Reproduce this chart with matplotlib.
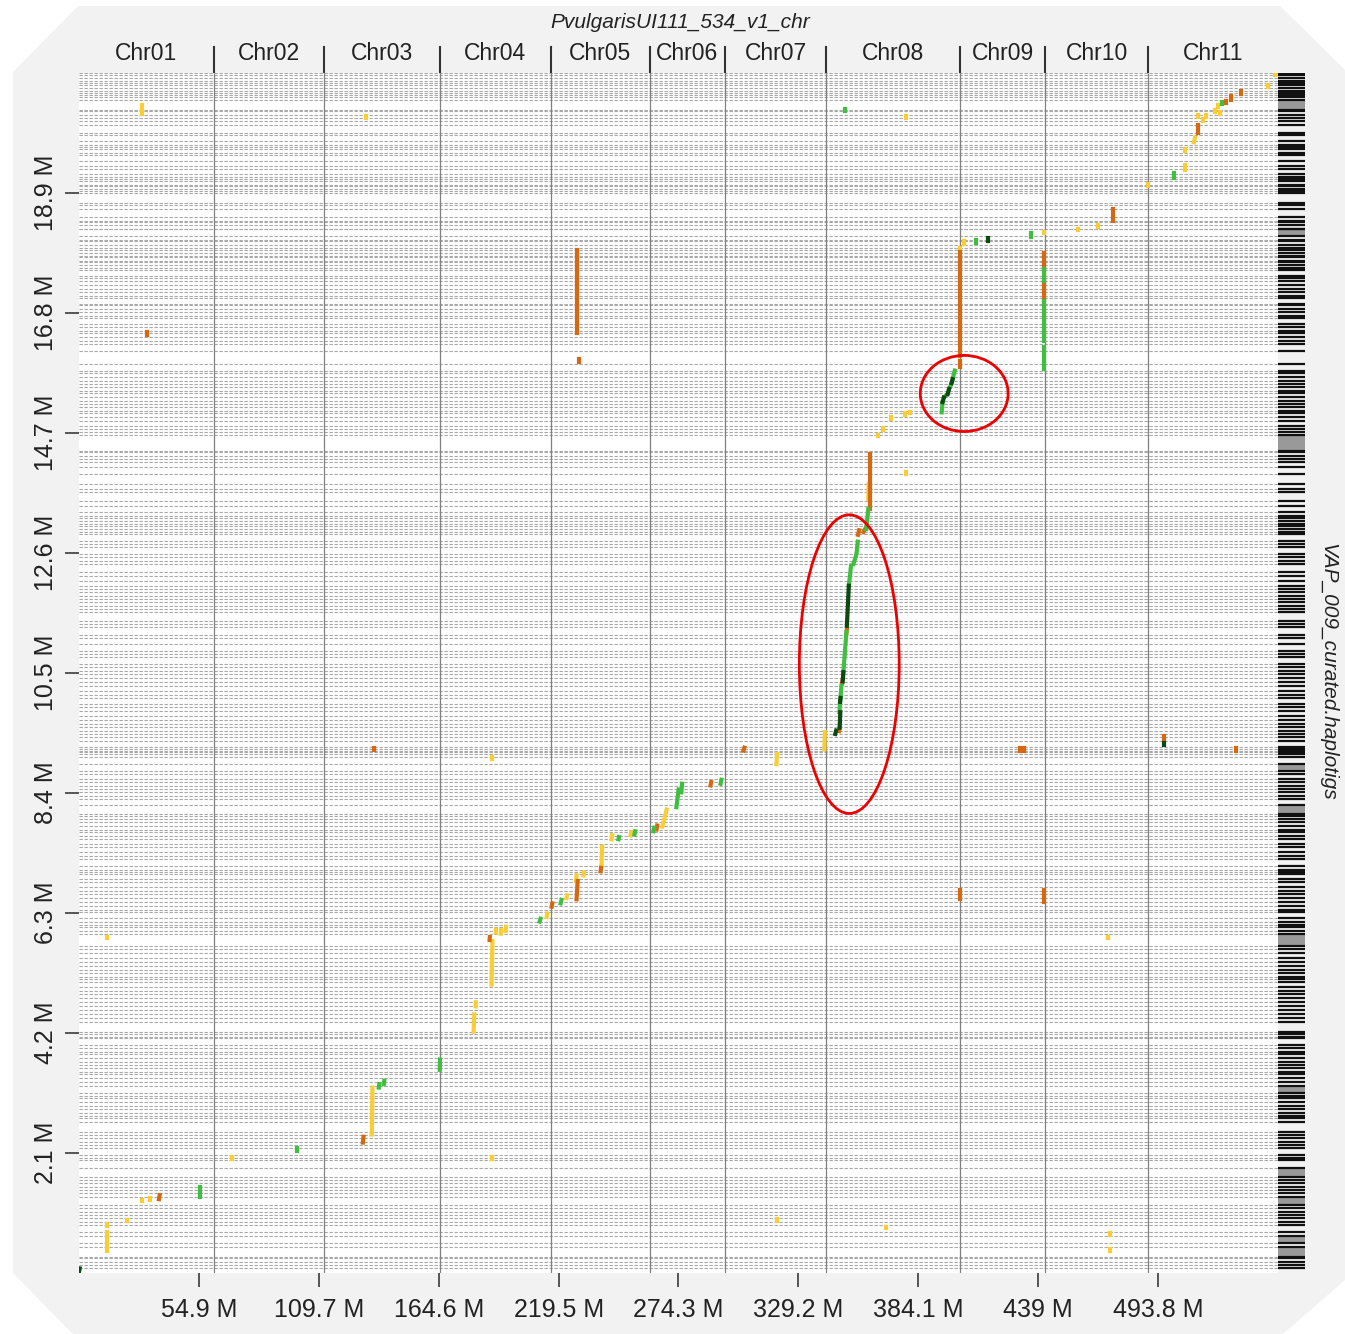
import matplotlib
matplotlib.use("Agg")
import matplotlib.pyplot as plt
from matplotlib.patches import Polygon, Ellipse
from matplotlib import transforms

plt.rcParams['font.family'] = ['Liberation Sans', 'DejaVu Sans']

# ---------------- data ----------------
x_total = 548.7   # Mb, reference (PvulgarisUI111_534_v1_chr)
y_total = 20.97   # Mb, query (VAP_009_curated.haplotigs)

chr_names = ["Chr01", "Chr02", "Chr03", "Chr04", "Chr05", "Chr06",
             "Chr07", "Chr08", "Chr09", "Chr10", "Chr11"]
chr_ends = [61.7, 112.0, 165.1, 215.8, 261.1, 295.8, 342.0, 403.3,
            442.2, 489.3, 548.7]

x_tick_labels = ["54.9 M", "109.7 M", "164.6 M", "219.5 M", "274.3 M",
                 "329.2 M", "384.1 M", "439 M", "493.8 M"]
y_tick_labels = ["2.1 M", "4.2 M", "6.3 M", "8.4 M", "10.5 M",
                 "12.6 M", "14.7 M", "16.8 M", "18.9 M"]

# query contig boundaries (Mb)
contig_bounds = [
    20.97, 20.93, 20.88, 20.83, 20.79, 20.76, 20.70, 20.65, 20.62, 20.58, 20.55,
    20.49, 20.32, 20.30, 20.23, 20.18, 20.13, 20.06, 19.92, 19.88,
    19.78, 19.72, 19.67, 19.64, 19.58, 19.53, 19.43, 19.34, 19.30,
    19.20, 19.16, 19.11, 19.08, 19.02, 18.99, 18.94, 18.90, 18.87,
    18.69, 18.66, 18.60, 18.45, 18.39, 18.36, 18.32, 18.25, 18.24, 18.13,
    18.06, 18.03, 17.97, 17.92, 17.87, 17.83, 17.78, 17.75, 17.69, 17.66,
    17.61, 17.57, 17.52, 17.43, 17.38, 17.33, 17.27, 17.20, 17.15, 17.08,
    17.03, 16.94, 16.91, 16.85, 16.80, 16.73, 16.68, 16.59, 16.54, 16.47,
    16.42, 16.36, 16.29, 16.24, 16.12, 15.89,
    15.77, 15.72, 15.66, 15.59, 15.54, 15.49, 15.42, 15.37, 15.31, 15.24,
    15.19, 15.14, 15.07, 15.02, 14.96, 14.88, 14.81, 14.75, 14.70,
    14.65, 14.37, 14.35, 14.28, 14.23, 14.18, 14.09, 13.97,
    13.79, 13.70, 13.65, 13.49, 13.41, 13.30, 13.23, 13.20, 13.14, 13.09,
    13.06, 13.00, 12.95, 12.92, 12.79, 12.74, 12.69, 12.57, 12.51, 12.44,
    12.39, 12.25, 12.18, 12.09, 12.01, 11.95, 11.90, 11.83, 11.78,
    11.73, 11.66, 11.60, 11.55, 11.39, 11.34, 11.29, 11.15, 11.10, 10.99,
    10.87, 10.82, 10.76, 10.64, 10.59, 10.52, 10.47, 10.40, 10.33, 10.26,
    10.17, 10.10, 10.05, 9.94, 9.89, 9.82, 9.73, 9.66, 9.59, 9.54, 9.47,
    9.42, 9.36, 9.29, 9.19, 9.15, 9.12, 9.10, 9.07, 9.01, 8.89, 8.77,
    8.72, 8.63, 8.58, 8.51, 8.45, 8.40, 8.33, 8.28, 8.17, 8.02,
    7.98, 7.93, 7.88, 7.81, 7.75, 7.70, 7.63, 7.58, 7.49, 7.44, 7.35,
    7.28, 7.23, 7.11, 7.05, 7.00, 6.97, 6.88, 6.83, 6.74, 6.67, 6.62,
    6.56, 6.49, 6.41, 6.35, 6.30, 6.20, 6.14, 6.09, 6.04, 5.97, 5.92, 5.72,
    5.67, 5.60, 5.51, 5.44, 5.36, 5.30, 5.25, 5.18, 5.13, 5.08, 4.99,
    4.92, 4.87, 4.81, 4.73, 4.66, 4.60, 4.52, 4.46, 4.39, 4.22, 4.18,
    4.13, 4.10, 3.99, 3.94, 3.87, 3.82, 3.76, 3.69, 3.64, 3.59, 3.52,
    3.47, 3.41, 3.34, 3.26, 3.15, 3.10, 3.05, 2.98, 2.92, 2.87, 2.80,
    2.75, 2.70, 2.63, 2.47, 2.42, 2.36, 2.29, 2.24, 2.19, 2.07, 2.01,
    1.98, 1.84, 1.68, 1.63, 1.58, 1.51, 1.45, 1.40, 1.33, 1.19, 1.14,
    1.07, 1.02, 0.96, 0.89, 0.84, 0.72, 0.65, 0.53, 0.46, 0.28, 0.26,
    0.19, 0.14, 0.09,
]
# long contigs shown as grey blocks in the side strip (Mb)
grey_contigs = [(20.32, 20.49), (18.13, 18.24), (14.37, 14.65), (8.77, 8.89),
                (8.02, 8.17), (5.72, 5.92), (3.15, 3.26), (1.68, 1.84),
                (1.19, 1.33), (0.53, 0.65), (0.28, 0.46)]

# alignments (x0, x1, y0, y1) in Mb, per identity class
aln_lt25 = [
    (12.8, 12.8, 0.82, 0.86), (12.8, 12.8, 0.68, 0.72), (12.8, 12.8, 0.48, 0.62),
    (12.8, 12.8, 0.38, 0.44), (21.9, 21.9, 0.90, 0.93), (28.8, 28.8, 1.25, 1.28),
    (32.5, 32.5, 1.28, 1.31), (70.0, 70.0, 2.00, 2.03), (28.8, 28.8, 20.37, 20.41),
    (28.8, 28.8, 20.26, 20.30), (131.2, 131.2, 20.19, 20.22), (12.8, 12.8, 5.85, 5.88),
    (134.0, 134.3, 2.42, 3.24), (180.6, 180.9, 4.22, 4.52), (181.5, 181.6, 4.66, 4.73),
    (188.8, 189.2, 5.04, 5.80), (190.7, 190.8, 5.95, 6.00), (193.0, 193.1, 5.93, 5.99),
    (195.2, 195.4, 5.98, 6.05), (188.8, 188.8, 8.98, 9.01), (188.8, 188.8, 2.00, 2.03),
    (214.0, 214.3, 6.22, 6.28), (223.1, 223.3, 6.55, 6.60), (227.5, 227.7, 6.85, 6.95),
    (230.9, 231.1, 6.95, 7.00), (239.1, 239.4, 7.10, 7.45), (243.7, 244.0, 7.58, 7.65),
    (252.4, 252.7, 7.65, 7.70), (267.0, 268.9, 7.80, 8.10), (319.2, 319.4, 8.89, 9.07),
    (341.1, 341.3, 9.15, 9.45), (319.2, 319.2, 0.91, 0.95), (361.2, 361.4, 13.53, 13.79),
    (365.8, 365.8, 14.62, 14.65), (368.1, 368.1, 14.74, 14.77), (371.7, 371.7, 14.92, 14.95),
    (378.0, 378.0, 14.99, 15.02), (380.3, 380.3, 15.02, 15.05), (378.6, 378.6, 13.96, 13.99),
    (369.5, 369.5, 0.78, 0.81), (378.6, 378.6, 20.19, 20.22), (403.3, 403.3, 17.87, 17.92),
    (405.1, 405.1, 17.99, 18.03), (441.7, 441.7, 18.17, 18.20), (457.3, 457.3, 18.22, 18.25),
    (466.4, 466.4, 18.28, 18.31), (471.0, 471.0, 5.85, 5.88), (471.9, 471.9, 0.67, 0.70),
    (471.9, 471.9, 0.39, 0.42), (489.3, 489.3, 19.00, 19.03), (506.2, 506.2, 19.27, 19.36),
    (506.2, 506.2, 19.61, 19.64), (510.2, 510.7, 19.76, 19.84), (512.1, 512.1, 20.20, 20.23),
    (514.4, 514.4, 20.13, 20.16), (515.8, 515.8, 20.20, 20.23), (519.9, 519.9, 20.29, 20.32),
    (521.3, 521.3, 20.38, 20.41), (522.2, 522.2, 20.26, 20.29), (544.1, 544.1, 20.73, 20.76),
    (547.3, 547.3, 20.93, 20.96),
]
aln_25_50 = [
    (36.6, 36.9, 1.29, 1.36), (31.1, 31.1, 16.40, 16.44), (129.9, 130.2, 2.28, 2.38),
    (134.9, 134.9, 9.14, 9.18), (187.9, 188.0, 5.82, 5.87), (216.3, 216.6, 6.40, 6.46),
    (227.7, 228.2, 6.53, 6.85), (238.7, 238.9, 7.02, 7.08), (264.3, 264.6, 7.75, 7.82),
    (289.0, 289.3, 8.52, 8.58), (304.1, 304.5, 9.13, 9.18), (227.7, 227.7, 17.30, 17.87),
    (227.7, 227.7, 16.90, 17.28), (227.7, 227.7, 16.42, 16.88), (228.6, 228.6, 15.92, 15.97),
    (347.8, 348.1, 9.47, 9.53), (349.2, 349.4, 10.30, 10.36), (351.2, 351.4, 11.18, 11.25),
    (356.5, 357.0, 12.90, 12.98), (359.0, 360.0, 12.95, 13.02), (362.1, 362.1, 13.35, 14.32),
    (403.3, 403.3, 15.84, 15.93), (403.3, 403.3, 16.03, 17.85), (441.7, 441.7, 17.55, 17.82),
    (441.7, 441.7, 16.99, 17.34), (403.3, 403.3, 6.53, 6.70), (441.7, 441.7, 6.49, 6.70),
    (430.7, 430.7, 9.13, 9.18), (432.5, 432.5, 9.13, 9.18), (473.3, 473.3, 18.39, 18.60),
    (496.6, 496.6, 9.34, 9.38), (529.5, 529.5, 9.13, 9.17), (512.1, 512.1, 19.92, 20.06),
    (524.9, 524.9, 20.44, 20.48), (527.2, 527.2, 20.50, 20.56), (531.8, 531.8, 20.60, 20.65),
]
aln_50_75 = [
    (55.3, 55.3, 1.33, 1.50), (99.7, 99.7, 2.13, 2.18), (137.2, 137.4, 3.24, 3.30),
    (139.5, 139.7, 3.30, 3.36), (165.1, 165.2, 3.55, 3.73), (210.8, 211.2, 6.14, 6.19),
    (220.4, 220.8, 6.46, 6.52), (246.9, 247.1, 7.58, 7.62), (254.2, 254.5, 7.66, 7.72),
    (262.9, 263.2, 7.72, 7.78), (273.4, 274.4, 8.14, 8.45), (275.7, 276.0, 8.40, 8.55),
    (293.6, 294.0, 8.55, 8.62), (348.0, 348.9, 9.80, 10.26), (349.8, 351.2, 10.50, 11.20),
    (352.3, 353.3, 12.01, 12.36), (354.4, 355.7, 12.39, 12.55), (355.9, 356.4, 12.60, 12.78),
    (360.3, 361.2, 13.00, 13.35), (350.7, 350.7, 20.31, 20.34), (394.8, 395.2, 15.04, 15.22),
    (395.8, 397.5, 15.30, 15.36), (398.2, 399.3, 15.45, 15.55), (399.8, 400.8, 15.62, 15.77),
    (410.6, 410.6, 18.00, 18.06), (435.8, 435.8, 18.10, 18.17), (441.7, 441.7, 17.34, 17.55),
    (441.7, 441.7, 16.45, 16.99), (441.7, 441.7, 16.28, 16.42), (441.7, 441.7, 16.01, 16.19),
    (441.7, 441.7, 15.80, 15.93), (501.1, 501.1, 19.13, 19.22), (523.1, 523.1, 20.42, 20.46),
]
aln_gt75 = [
    (0.0, 0.3, 0.02, 0.08), (346.1, 346.5, 9.42, 9.48), (348.1, 348.4, 9.53, 9.80),
    (348.3, 348.5, 9.98, 10.05), (349.5, 349.8, 10.34, 10.50), (351.4, 352.3, 11.31, 12.01),
    (395.2, 395.8, 15.22, 15.30), (397.5, 398.2, 15.36, 15.45), (399.3, 399.8, 15.55, 15.62),
    (416.1, 416.1, 18.04, 18.08), (496.6, 496.6, 9.22, 9.26),
]
class_colors = ["#f9cd33", "#d8680f", "#3fbf3f", "#0b4a12"]

# highlighted regions (centre x, centre y, width, height) in Mb
highlights = [(352.5, 10.64, 45.7, 5.22), (405.1, 15.37, 40.2, 1.33)]

# ---------------- figure ----------------
W, H = 1345, 1334
fig = plt.figure(figsize=(W / 100, H / 100), dpi=100, facecolor="white")

def fx(px):
    return px / W

def fy(py):
    return 1 - py / H

octa = [(78, 6), (1280, 6), (1345, 70), (1345, 1280), (1283, 1334),
        (73, 1334), (13, 1273), (13, 72)]
fig.patches.append(Polygon([(fx(a), fy(b)) for a, b in octa], closed=True,
                           transform=fig.transFigure, facecolor="#f2f2f2",
                           edgecolor="none", zorder=-10))

L, R, T, B = 79, 1278, 73, 1273
ax = fig.add_axes([fx(L), fy(B), (R - L) / W, (B - T) / H])
ax.set_facecolor("white")
ax.set_xlim(0, x_total)
ax.set_ylim(0, y_total)
for s in ax.spines.values():
    s.set_visible(False)

ax.hlines(contig_bounds, 0, x_total, colors="#a8a8a8", linewidth=0.8,
          linestyles=(0, (3, 1.5)), zorder=1)
ax.vlines(chr_ends[:-1], 0, y_total, colors="#808080", linewidth=0.9, zorder=1.5)

for cls, segs in enumerate([aln_lt25, aln_25_50, aln_50_75, aln_gt75]):
    for x0, x1, y0, y1 in segs:
        ax.plot([x0, x1], [y0, y1], color=class_colors[cls], lw=3,
                solid_capstyle="projecting", zorder=3 + cls * 0.1)

for cx, cy, w, h in highlights:
    ax.add_patch(Ellipse((cx, cy), w, h, fill=False, edgecolor="#ee0000",
                         linewidth=2.0, zorder=5))

xt = [x_total * k / 10 for k in range(1, 10)]
yt = [y_total * k / 10 for k in range(1, 10)]
ax.set_xticks(xt)
ax.set_xticklabels(x_tick_labels, fontsize=18, color="#222222")
ax.set_yticks(yt)
ax.set_yticklabels(y_tick_labels, fontsize=18, color="#222222",
                   rotation=90, va="center")
ax.tick_params(axis="x", direction="out", length=10, width=1.4,
               color="#555555", pad=8)
ax.tick_params(axis="y", direction="out", length=10, width=1.4,
               color="#555555", pad=5)

# chromosome names and separators on top
trans = transforms.blended_transform_factory(ax.transData, ax.transAxes)
starts = [0] + chr_ends[:-1]
for name, s, e in zip(chr_names, starts, chr_ends):
    ax.text((s + e) / 2, 1 + (T - 53) / (B - T), name, transform=trans,
            ha="center", va="center", fontsize=16.5, color="#222222")
for e in chr_ends[:-1]:
    ax.plot([e, e], [1.0008, 1.0217], transform=trans, color="#333333",
            lw=1.5, clip_on=False)

fig.text(fx(680), fy(22), "PvulgarisUI111_534_v1_chr", ha="center",
         va="center", fontsize=15, style="italic", color="#222222")
fig.text(fx(1328), fy(672), "VAP_009_curated.haplotigs", ha="center",
         va="center", fontsize=15, style="italic", rotation=270,
         color="#222222")

# side strip of query contigs
ax2 = fig.add_axes([fx(R), fy(B), 27 / W, (B - T) / H])
ax2.set_xlim(0, 1)
ax2.set_ylim(0, y_total)
ax2.axis("off")
for lo, hi in grey_contigs:
    ax2.axhspan(lo, hi, color="#999999", lw=0)
ax2.hlines(contig_bounds, 0, 1, colors="#111111", linewidth=1.6)

fig.savefig("out.png", dpi=100, facecolor="white")
